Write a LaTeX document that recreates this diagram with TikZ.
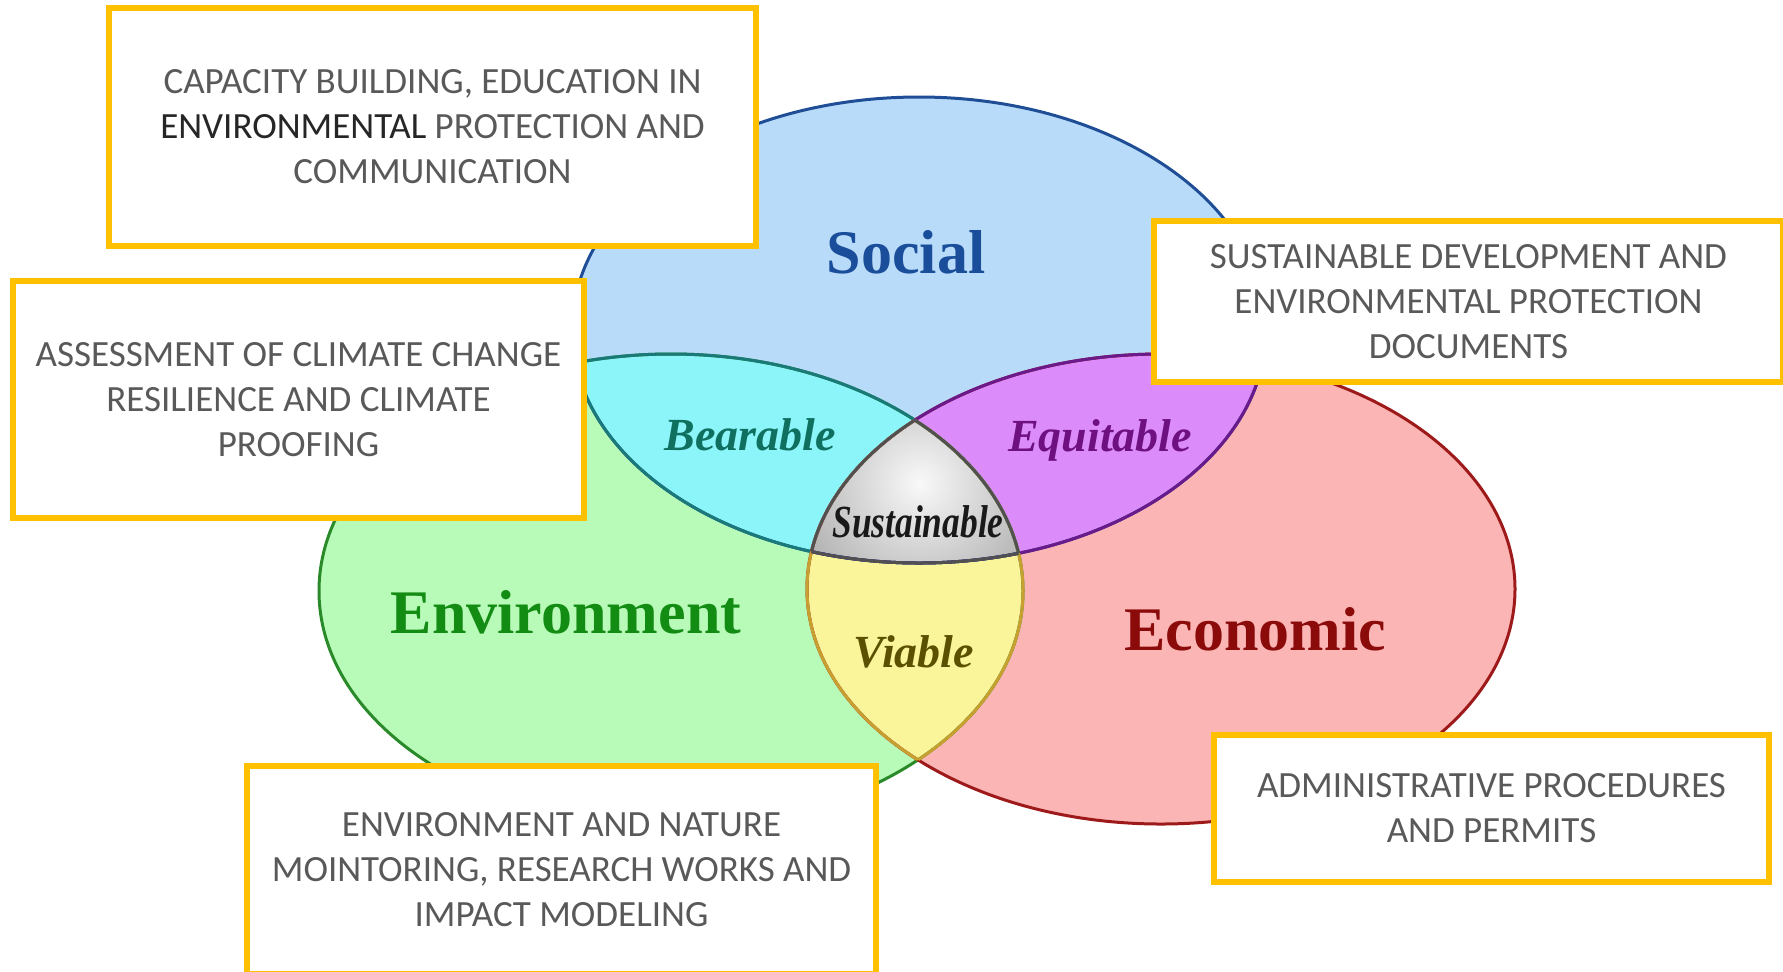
\documentclass[tikz,border=0pt]{standalone}
\usepackage{fontspec}
\setmainfont{Liberation Serif}
\newfontfamily\boxfont{Carlito}

% fills
\definecolor{socialfill}{HTML}{B9DBFA}
\definecolor{envfill}{HTML}{B8FAB8}
\definecolor{ecofill}{HTML}{FBB5B5}
\definecolor{bearfill}{HTML}{8CF5FA}
\definecolor{equifill}{HTML}{DC8CFA}
\definecolor{viafill}{HTML}{FAF59B}
% outlines
\definecolor{socialline}{HTML}{1F4E96}
\definecolor{envline}{HTML}{2A8A2A}
\definecolor{ecoline}{HTML}{9E1A1A}
\definecolor{bearline}{HTML}{1A7A7A}
\definecolor{equiline}{HTML}{6A1A8A}
\definecolor{vialine}{HTML}{C8A030}
\definecolor{sustline}{HTML}{505050}
% labels
\definecolor{socialtext}{HTML}{1A4E9A}
\definecolor{envtext}{HTML}{138C13}
\definecolor{ecotext}{HTML}{8B0A0A}
\definecolor{beartext}{HTML}{107060}
\definecolor{equitext}{HTML}{6E1080}
\definecolor{viatext}{HTML}{5A5000}
% boxes
\definecolor{boxyellow}{HTML}{FFC000}
\definecolor{boxgray}{HTML}{595959}
\definecolor{boxdark}{HTML}{262626}

\begin{document}
\begin{tikzpicture}[x=0.5pt, y=0.5pt,
    venn/.style={line width=1.5pt},
    big/.style={anchor=base, font=\bfseries\fontsize{31}{31}\selectfont},
    small/.style={anchor=base, font=\bfseries\itshape\fontsize{23}{23}\selectfont},
    box/.style={draw=boxyellow, line width=3pt, fill=white, inner sep=0pt,
        align=center, text=boxgray, font=\boxfont\fontsize{18.5}{22.5}\selectfont}]
    \useasboundingbox (0,0) rectangle (1783,-971);

    % Circles
    \def\socialpath{(919,-330) ellipse [x radius=347, y radius=233]}
    \def\envpath{(671,-591) ellipse [x radius=352, y radius=237]}
    \def\ecopath{(1161,-589) ellipse [x radius=354, y radius=235]}

    \fill[socialfill] \socialpath;
    \fill[envfill] \envpath;
    \fill[ecofill] \ecopath;

    % Overlaps
    \begin{scope}
        \clip \socialpath;
        \fill[bearfill] \envpath;
        \fill[equifill] \ecopath;
    \end{scope}
    \begin{scope}
        \clip \envpath;
        \fill[viafill] \ecopath;
    \end{scope}
    \begin{scope}
        \clip \socialpath;
        \clip \envpath;
        \clip \ecopath;
        \shade[inner color=gray!5, outer color=gray!70] (920,-483) circle (150);
    \end{scope}

    % Outlines
    \draw[venn, socialline] \socialpath;
    \draw[venn, envline] \envpath;
    \draw[venn, ecoline] \ecopath;
    \begin{scope}
        \clip \socialpath;
        \draw[venn, bearline] \envpath;
        \draw[venn, equiline] \ecopath;
    \end{scope}
    \begin{scope}
        \clip \envpath;
        \draw[venn, bearline] \socialpath;
        \draw[venn, vialine] \ecopath;
    \end{scope}
    \begin{scope}
        \clip \ecopath;
        \draw[venn, equiline] \socialpath;
        \draw[venn, vialine] \envpath;
    \end{scope}
    \begin{scope}
        \clip \socialpath;
        \clip \envpath;
        \draw[venn, sustline] \ecopath;
    \end{scope}
    \begin{scope}
        \clip \socialpath;
        \clip \ecopath;
        \draw[venn, sustline] \envpath;
    \end{scope}
    \begin{scope}
        \clip \envpath;
        \clip \ecopath;
        \draw[venn, sustline] \socialpath;
    \end{scope}

    % Labels
    \node[big, socialtext] (social) at (906,-273) {Social};
    \node[big, envtext] (environment) at (566,-633) {Environment};
    \node[big, ecotext] (economic) at (1255,-650) {Economic};
    \node[small, beartext] (bearable) at (750,-450) {Bearable};
    \node[small, equitext] (equitable) at (1100,-451) {Equitable};
    \node[small, viatext] (viable) at (914,-667) {Viable};
    \node[small, xscale=0.77, text=black!90] (sustainable) at (918,-537) {Sustainable};

    % Boxes
    \node[box, minimum width=323.5pt, minimum height=119pt] (capacity) at (432.5,-127)
        {CAPACITY BUILDING, EDUCATION IN\\{\color{boxdark}ENVIRONMENTAL} PROTECTION AND\\COMMUNICATION};
    \node[box, minimum width=285.5pt, minimum height=118.5pt] (climate) at (298.5,-399.5)
        {ASSESSMENT OF CLIMATE CHANGE\\RESILIENCE AND CLIMATE\\PROOFING};
    \node[box, minimum width=314.5pt, minimum height=80.5pt] (documents) at (1468.5,-301.5)
        {SUSTAINABLE DEVELOPMENT AND\\ENVIRONMENTAL PROTECTION\\DOCUMENTS};
    \node[box, minimum width=277.5pt, minimum height=73.5pt] (permits) at (1491.5,-808.5)
        {ADMINISTRATIVE PROCEDURES\\AND PERMITS};
    \node[box, minimum width=314.5pt, minimum height=104pt] (monitoring) at (561.5,-870)
        {ENVIRONMENT AND NATURE\\MOINTORING, RESEARCH WORKS AND\\IMPACT MODELING};
\end{tikzpicture}
\end{document}
